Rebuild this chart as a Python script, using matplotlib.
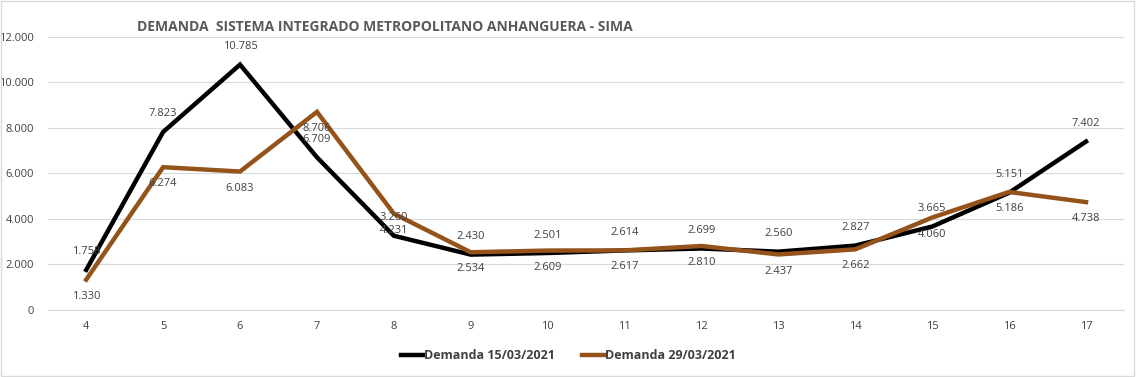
import matplotlib.pyplot as plt
from matplotlib.patches import Rectangle

plt.rcParams["font.family"] = ["Open Sans", "DejaVu Sans"]

hours = [4, 5, 6, 7, 8, 9, 10, 11, 12, 13, 14, 15, 16, 17]
demanda_15 = [1758, 7823, 10785, 6709, 3260, 2430, 2501, 2614, 2699, 2560, 2827, 3665, 5151, 7402]
demanda_29 = [1330, 6274, 6083, 8706, 4231, 2534, 2609, 2617, 2810, 2437, 2662, 4060, 5186, 4738]

title = "DEMANDA  SISTEMA INTEGRADO METROPOLITANO ANHANGUERA - SIMA"
label_15 = "Demanda 15/03/2021"
label_29 = "Demanda 29/03/2021"

black = "#000000"
brown = "#94531A"
text_col = "#404040"


def fmt(v):
    return f"{v:,.0f}".replace(",", ".")


fig = plt.figure(figsize=(11.37, 3.77), dpi=100)
ax = fig.add_axes([0.042, 0.178, 0.947, 0.724])

pos = list(range(len(hours)))
ax.plot(pos, demanda_15, color=black, lw=3.2, solid_joinstyle="miter", label=label_15, zorder=3)
ax.plot(pos, demanda_29, color=brown, lw=3.2, solid_joinstyle="miter", label=label_29, zorder=3)

for i, v in enumerate(demanda_15):
    ax.annotate(fmt(v), (i, v), xytext=(0, 9), textcoords="offset points",
                ha="center", va="bottom", fontsize=8, color=text_col, zorder=4)
for i, v in enumerate(demanda_29):
    ax.annotate(fmt(v), (i, v), xytext=(0, -8), textcoords="offset points",
                ha="center", va="top", fontsize=8, color=text_col, zorder=4)

ax.set_xlim(-0.5, len(hours) - 0.5)
ax.set_ylim(0, 12000)
ax.set_yticks(range(0, 12001, 2000))
ax.set_yticklabels([fmt(v) for v in range(0, 12001, 2000)])
ax.set_xticks(pos)
ax.set_xticklabels([str(h) for h in hours])
ax.tick_params(length=0, labelsize=8, labelcolor=text_col)
ax.tick_params(axis="x", pad=8)
ax.tick_params(axis="y", pad=10)
ax.grid(axis="y", color="#d9d9d9", lw=0.8)
ax.set_axisbelow(True)
for s in ["top", "right", "left"]:
    ax.spines[s].set_visible(False)
ax.spines["bottom"].set_color("#d9d9d9")

fig.text(0.1205, 0.928, title, fontsize=10, fontweight="bold", color="#595959", va="center")

leg = fig.legend(loc="center", bbox_to_anchor=(0.5, 0.056), ncol=2, frameon=False,
                 handlelength=1.8, handletextpad=0.05, columnspacing=2.2,
                 prop={"size": 9, "weight": "bold"})
for t in leg.get_texts():
    t.set_color(text_col)

fig.patches.append(Rectangle((0.001, 0.003), 0.996, 0.994, transform=fig.transFigure,
                             fill=False, edgecolor="#d9d9d9", lw=1))

fig.savefig("out.png", dpi=100)
